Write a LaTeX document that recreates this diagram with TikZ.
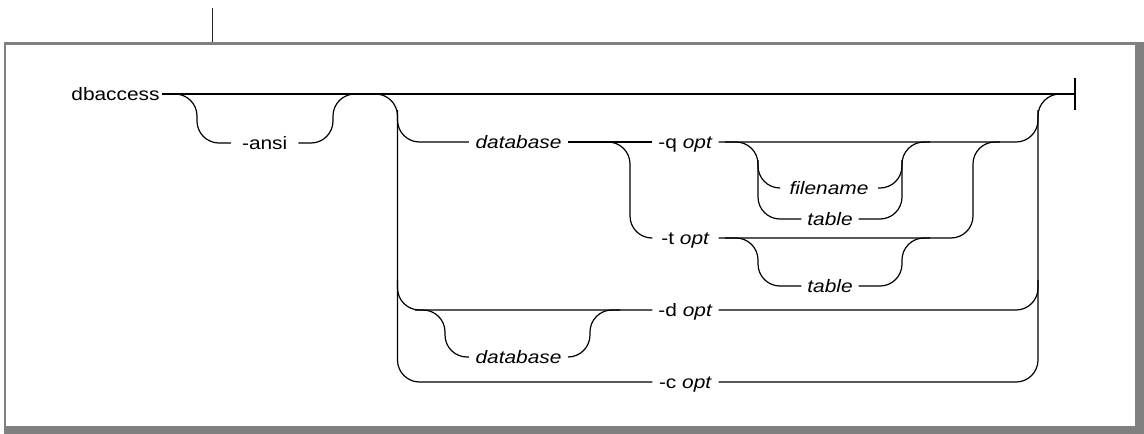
\documentclass[tikz,border=0pt]{standalone}
\usepackage{fontspec}
\setmainfont{Liberation Sans}
\usepackage{graphicx}
\newcommand{\sx}[1]{\scalebox{1.16}[1]{#1}}
\begin{document}
\begin{tikzpicture}[x=1pt,y=-1pt,line width=1.2pt,
  rc/.style={rounded corners=22pt},
  lbl/.style={font=\fontsize{18}{20}\selectfont,text height=13pt,text depth=1pt,inner ysep=0pt,inner xsep=#1},
  lbl/.default=5pt,
  optbox/.style={lbl=0pt,minimum width=65pt}]
\useasboundingbox (0,0) rectangle (1144,434);
% frame
\fill[black!50] (4,42) rectangle (1144,434);
\fill[white] (6,44.5) rectangle (1135,426);
\draw[line width=1pt,black!85] (212,8) -- (212,42);
% nodes
\node[lbl=2pt] (dbaccess) at (115.5,94) {\sx{dbaccess}};
\node[lbl=10.5pt] (ansi) at (264.7,143) {\sx{-ansi}};
\node[lbl=6pt] (db1) at (518.5,142) {\sx{\textit{database}}};
\node[optbox] (qopt) at (685.5,142) {\sx{-q \textit{opt}}};
\node[optbox] (topt) at (685.5,238) {\sx{-t \textit{opt}}};
\node[lbl=9pt] (fname) at (829,188) {\sx{\textit{filename}}};
\node[lbl=5.5pt] (tab1) at (830,219) {\sx{\textit{table}}};
\node[lbl=5.5pt] (tab2) at (830,286) {\sx{\textit{table}}};
\node[optbox] (dopt) at (685.5,310) {\sx{-d \textit{opt}}};
\node[lbl=6pt] (db2) at (518.5,357) {\sx{\textit{database}}};
\node[optbox] (copt) at (685.5,382) {\sx{-c \textit{opt}}};
% coordinates
\coordinate (endp) at (1075,94);
\coordinate (aL) at (197,143);
\coordinate (aR) at (333,94);
\coordinate (j1) at (380,94);
\coordinate (gL0) at (350,94);
\coordinate (gLc) at (397.5,382);
\coordinate (gL1) at (397.5,110);
\coordinate (gL2) at (397.5,280);
\coordinate (dS0) at (415,310);
\coordinate (dSL) at (445,357);
\coordinate (dSR) at (590,310);
\coordinate (dS1) at (620,310);
\coordinate (qt0) at (600,142);
\coordinate (qtV) at (630,238);
\coordinate (gR0) at (1038,94);
\coordinate (gR1) at (1038,110);
\coordinate (gR2) at (1038,280);
\coordinate (tj) at (973,142);
\coordinate (tj1) at (1000,142);
\coordinate (f0) at (725,142);
\coordinate (fV) at (758,219);
\coordinate (fV1) at (758,160);
\coordinate (fR1) at (902,160);
\coordinate (fR) at (902,142);
\coordinate (fR2) at (930,142);
\coordinate (t0) at (725,238);
\coordinate (tV) at (758,286);
\coordinate (tR) at (902,238);
\coordinate (tR2) at (930,238);
% main line and end
\draw (dbaccess.east) -- (endp);
\draw ([yshift=-16pt]endp) -- ([yshift=16pt]endp);
% -ansi
\draw[rc] (dbaccess.east) -| (aL) -- (ansi.west);
\draw[rc] (ansi.east) -| (aR) -- (j1);
% big group left
\draw[rc] (gL0) -| (gLc) -- (copt.west);
\draw[rc] (gL1) |- (db1.west);
\draw[rc] (gL2) |- (dopt.west);
% database sub-branch under -d
\draw[rc] (dS0) -| (dSL) -- (db2.west);
\draw[rc] (db2.east) -| (dSR) -- (dS1);
% database -> -q / -t
\draw (db1.east) -- (qopt.west);
\draw[rc] (qt0) -| (qtV) -- (topt.west);
% filename / table
\draw[rc] (f0) -| (fV) -- (tab1.west);
\draw[rc] (fV1) |- (fname.west);
\draw[rc] (fname.east) -| (fR1);
\draw[rc] (tab1.east) -| (fR) -- (fR2);
% table under -t
\draw[rc] (t0) -| (tV) -- (tab2.west);
\draw[rc] (tab2.east) -| (tR) -- (tR2);
% right joins
\draw[rc] (topt.east) -| (tj) -- (tj1);
\draw[rc] (qopt.east) -| (gR1);
\draw[rc] (dopt.east) -| (gR2);
\draw[rc] (copt.east) -| (gR0) -- (endp);
\end{tikzpicture}
\end{document}
